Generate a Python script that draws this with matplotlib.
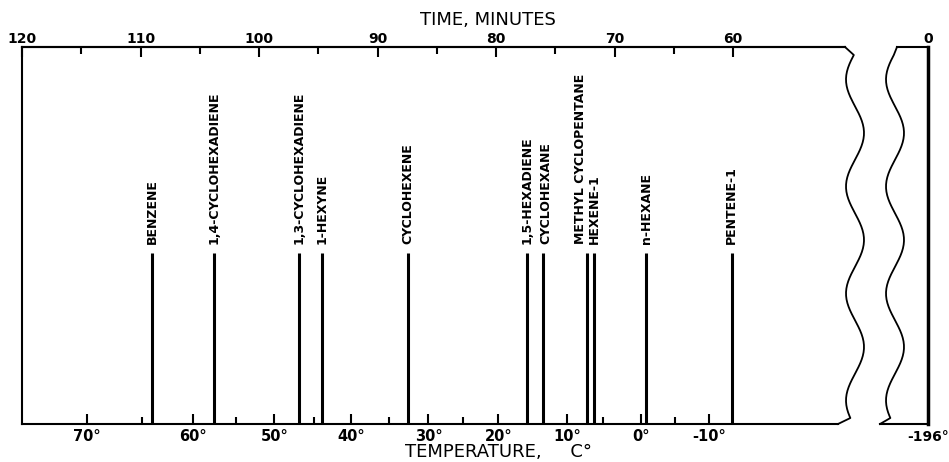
import numpy as np
import matplotlib
matplotlib.use('Agg')
import matplotlib.pyplot as plt

# compuestos y tiempo de salida (minutos)
compuestos = ['BENZENE', '1,4-CYCLOHEXADIENE', '1,3-CYCLOHEXADIENE', '1-HEXYNE',
              'CYCLOHEXENE', '1,5-HEXADIENE', 'CYCLOHEXANE', 'METHYL CYCLOPENTANE',
              'HEXENE-1', 'n-HEXANE', 'PENTENE-1']
tiempos = [109.0, 103.8, 96.6, 94.7, 87.4, 77.4, 76.0, 72.3, 71.7, 67.3, 60.1]
alturas = [0.454, 0.454, 0.454, 0.454, 0.454, 0.454, 0.454, 0.454, 0.454, 0.454, 0.454]

# eje de tiempo (arriba)
tiempo_mayor = [120, 110, 100, 90, 80, 70, 60]
tiempo_menor = [115, 105, 95, 85, 75, 65]

# eje de temperatura (abajo), posicion en minutos
temp_mayor = [70, 60, 50, 40, 30, 20, 10, 0, -10]
temp_mayor_t = [114.5, 105.6, 98.7, 92.2, 85.7, 79.8, 74.0, 67.8, 62.0]
temp_menor_t = [109.9, 101.9, 95.4, 89.0, 82.8, 71.0, 64.9]

# panel derecho
tiempo_final = [0]
temp_final = ['-196°']

W, H = 949, 462
px = 11.85  # pixeles por minuto
lw = 1.5

fig = plt.figure(figsize=(W / 100, H / 100), dpi=100)

ax = fig.add_axes([22 / W, 1 - 424 / H, (845 - 22) / W, (424 - 47) / H])
ax.set_xlim(120, 120 - (845 - 22) / px)
ax.set_ylim(0, 1)
ax.set_yticks([])
ax.spines['right'].set_visible(False)
for s in ['left', 'top', 'bottom']:
    ax.spines[s].set_linewidth(lw)
ax.spines['bottom'].set_bounds(120, 120 - (838 - 22) / px)

ax.set_xticks(temp_mayor_t, [str(t) + '°' for t in temp_mayor])
ax.set_xticks(temp_menor_t, minor=True)
ax.tick_params(axis='x', which='major', direction='in', length=7, width=lw, pad=3.5,
               labelsize=10.5)
ax.tick_params(axis='x', which='minor', direction='in', length=5, width=lw)
for lbl in ax.get_xticklabels():
    lbl.set_fontweight('bold')

arriba = ax.secondary_xaxis('top')
arriba.set_xticks(tiempo_mayor, [str(t) for t in tiempo_mayor])
arriba.set_xticks(tiempo_menor, minor=True)
arriba.spines['top'].set_linewidth(lw)
arriba.tick_params(axis='x', which='major', direction='in', length=7, width=lw, pad=1,
                   labelsize=10)
arriba.tick_params(axis='x', which='minor', direction='in', length=5, width=lw)
for lbl in arriba.get_xticklabels():
    lbl.set_fontweight('bold')

# picos
ax.vlines(tiempos, 0, alturas, color='black', linewidth=2.2)
corrimiento = {'METHYL CYCLOPENTANE': -5, 'CYCLOHEXANE': 2}
for nombre, t, h in zip(compuestos, tiempos, alturas):
    ax.annotate(nombre, (t, h), xytext=(corrimiento.get(nombre, 0), 6.5),
                textcoords='offset points', rotation=90, ha='center', va='bottom',
                fontsize=9, fontweight='bold')

# panel derecho (0 min / -196)
ax2 = fig.add_axes([880 / W, 1 - 424 / H, 48 / W, (424 - 47) / H])
ax2.patch.set_visible(False)
ax2.set_xlim(48 / px, 0)
ax2.set_ylim(0, 1)
ax2.set_yticks([])
ax2.spines['left'].set_visible(False)
ax2.spines['right'].set_linewidth(2.5)
ax2.spines['top'].set_linewidth(lw)
ax2.spines['bottom'].set_linewidth(lw)
ax2.spines['top'].set_bounds((928 - 897) / px, 0)
ax2.set_xticks(tiempo_final, temp_final)
ax2.tick_params(axis='x', length=0, pad=4, labelsize=10)
for lbl in ax2.get_xticklabels():
    lbl.set_fontweight('bold')
arriba2 = ax2.secondary_xaxis('top')
arriba2.set_xticks(tiempo_final, [str(t) for t in tiempo_final])
arriba2.spines['top'].set_visible(False)
arriba2.tick_params(axis='x', length=0, pad=1, labelsize=10)
for lbl in arriba2.get_xticklabels():
    lbl.set_fontweight('bold')

# lineas onduladas del corte
ov = fig.add_axes([0, 0, 1, 1], zorder=5)
ov.set_xlim(0, W)
ov.set_ylim(H, 0)
ov.axis('off')
y = np.linspace(55, 418, 200)
onda = 9 * np.cos(2 * np.pi * (y - 133) / 107)
ov.plot(np.r_[845, 855 + onda, 838], np.r_[47, y, 424], color='black', linewidth=1.3)
ov.plot(np.r_[897, 895 + onda, 880], np.r_[47, y, 424], color='black', linewidth=1.3)

fig.text(488 / W, 1 - 20 / H, 'TIME, MINUTES', ha='center', va='center', fontsize=13)
fig.text(498 / W, 1 - 452 / H, 'TEMPERATURE,     C°', ha='center', va='center',
         fontsize=13)

fig.savefig('out.png', dpi=100)
